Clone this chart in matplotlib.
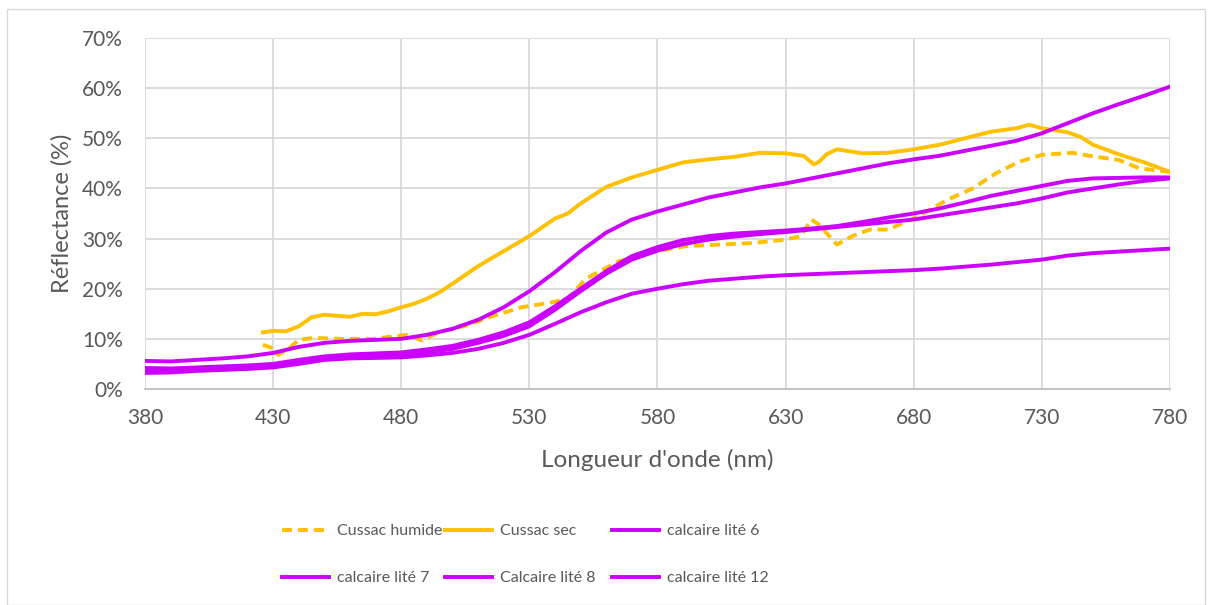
import matplotlib
matplotlib.use("Agg")
import matplotlib.pyplot as plt
from matplotlib.patches import Rectangle
from matplotlib.ticker import FuncFormatter

# ---------------- data ----------------
wl_sec = [426, 430, 435, 440, 445, 450, 455, 460, 465, 470, 475, 480, 485, 490, 495, 500,
          510, 520, 530, 540, 545, 550, 560, 570, 580, 590, 600, 610, 620, 630, 637, 641,
          643, 646, 650, 660, 670, 680, 690, 700, 710, 720, 725, 730, 740, 745, 750, 760,
          770, 780]
cussac_sec = [11.3, 11.6, 11.5, 12.5, 14.3, 14.8, 14.6, 14.4, 15.0, 14.9, 15.5, 16.3, 17.0,
              18.0, 19.3, 21.0, 24.5, 27.5, 30.5, 34.0, 35.0, 37.0, 40.3, 42.2, 43.7, 45.2,
              45.8, 46.3, 47.1, 47.0, 46.5, 44.8, 45.3, 46.8, 47.8, 47.0, 47.1, 47.8, 48.7,
              50.0, 51.3, 52.0, 52.7, 52.0, 51.2, 50.3, 48.7, 46.8, 45.2, 43.3]

wl_humide = [426, 429, 432, 436, 440, 446, 456, 469, 482, 488, 495, 505, 516, 527, 539, 545,
             552, 565, 580, 591, 604, 617, 630, 636, 640, 643, 650, 656, 663, 670, 682, 693,
             703, 712, 721, 730, 742, 751, 760, 768, 780]
cussac_humide = [8.8, 8.3, 6.8, 8.0, 9.8, 10.2, 10.0, 10.0, 10.8, 9.7, 11.4, 12.6, 14.6, 16.3,
                 17.3, 18.0, 22.0, 25.5, 27.5, 28.5, 28.8, 29.1, 29.8, 30.5, 33.8, 32.8, 28.8,
                 30.5, 31.8, 31.8, 34.5, 37.7, 40.0, 43.0, 45.3, 46.7, 47.1, 46.3, 45.7, 44.0,
                 43.3]

wl_calc = list(range(380, 781, 10))
calcaire_6 = [5.6, 5.5, 5.8, 6.1, 6.5, 7.2, 8.4, 9.2, 9.6, 9.8, 10.0, 10.8, 12.0, 13.8, 16.3,
              19.5, 23.3, 27.5, 31.2, 33.8, 35.4, 36.8, 38.2, 39.2, 40.2, 41.0, 42.0, 43.0,
              44.0, 45.0, 45.8, 46.5, 47.5, 48.5, 49.5, 51.0, 53.0, 55.0, 56.8, 58.5, 60.3]
calcaire_7 = [4.2, 4.1, 4.3, 4.5, 4.7, 5.0, 5.8, 6.5, 6.9, 7.1, 7.3, 7.9, 8.6, 9.8, 11.3, 13.3,
              16.5, 20.0, 23.5, 26.5, 28.3, 29.7, 30.5, 31.0, 31.3, 31.6, 32.0, 32.5, 33.3,
              34.2, 35.0, 36.0, 37.2, 38.5, 39.5, 40.5, 41.5, 42.0, 42.1, 42.2, 42.2]
calcaire_8 = [3.6, 3.6, 3.8, 4.0, 4.3, 4.6, 5.5, 6.2, 6.5, 6.6, 6.8, 7.3, 8.0, 9.2, 10.6, 12.5,
              15.8, 19.5, 23.0, 25.8, 27.6, 28.9, 29.8, 30.4, 30.9, 31.3, 31.8, 32.3, 32.8,
              33.3, 33.8, 34.6, 35.4, 36.2, 37.0, 38.0, 39.2, 40.0, 40.8, 41.5, 42.0]
calcaire_12 = [3.2, 3.3, 3.6, 3.8, 4.0, 4.3, 5.0, 5.8, 6.1, 6.2, 6.3, 6.7, 7.2, 8.0, 9.2, 10.8,
               13.0, 15.3, 17.3, 19.0, 20.0, 20.9, 21.6, 22.0, 22.4, 22.7, 22.9, 23.1, 23.3,
               23.5, 23.7, 24.0, 24.4, 24.8, 25.3, 25.8, 26.6, 27.1, 27.4, 27.7, 28.0]

x_ticks = [380, 430, 480, 530, 580, 630, 680, 730, 780]
y_ticks = [0, 10, 20, 30, 40, 50, 60, 70]

# ---------------- style ----------------
ORANGE = "#FFC000"
PURPLE = "#CC00FF"
TXT = "#595959"
GRID = "#D9D9D9"
FONT = "Lato"
LW = 2.8

fig = plt.figure(figsize=(12.13, 6.05), dpi=100)
fig.patch.set_facecolor("white")
fig.add_artist(Rectangle((7 / 1213, 0.0), 1198 / 1213, 1 - 9 / 605, transform=fig.transFigure,
                         fill=False, edgecolor="#D9D9D9", linewidth=1.0))

ax = fig.add_axes([145 / 1213, 1 - 389 / 605, (1170 - 145) / 1213, (389 - 38) / 605])

l_hum, = ax.plot(wl_humide, cussac_humide, color=ORANGE, lw=LW, dashes=(2.6, 1.5),
                 label="Cussac humide")
l_sec, = ax.plot(wl_sec, cussac_sec, color=ORANGE, lw=LW, label="Cussac sec")
l6, = ax.plot(wl_calc, calcaire_6, color=PURPLE, lw=LW, label="calcaire lité 6")
l7, = ax.plot(wl_calc, calcaire_7, color=PURPLE, lw=LW, label="calcaire lité 7")
l8, = ax.plot(wl_calc, calcaire_8, color=PURPLE, lw=LW, label="Calcaire lité 8")
l12, = ax.plot(wl_calc, calcaire_12, color=PURPLE, lw=LW, label="calcaire lité 12")

ax.set_xlim(380, 780)
ax.set_ylim(0, 70)
ax.set_xticks(x_ticks)
ax.set_yticks(y_ticks)
ax.yaxis.set_major_formatter(FuncFormatter(lambda v, p: f"{int(v)}%"))
ax.grid(True, color=GRID, lw=1.3)
ax.set_axisbelow(True)
for s in ["top", "right", "left"]:
    ax.spines[s].set_visible(False)
ax.spines["bottom"].set_color("#BFBFBF")
ax.spines["bottom"].set_linewidth(1.3)
ax.tick_params(length=0, labelsize=15, labelcolor=TXT)
ax.tick_params(axis="x", pad=14)
ax.tick_params(axis="y", pad=16)
for lab in ax.get_xticklabels() + ax.get_yticklabels():
    lab.set_fontfamily(FONT)

ax.set_xlabel("Longueur d'onde (nm)", fontsize=17.5, color=TXT, family=FONT, labelpad=15)
ax.set_ylabel("Réflectance (%)", fontsize=17, color=TXT, family=FONT, labelpad=7)

cols = [([l_hum, l7], 282), ([l_sec, l8], 445), ([l6, l12], 612)]
for handles, xpx in cols:
    leg = fig.legend(handles=handles, loc="upper left",
                     bbox_to_anchor=(xpx / 1213, 1 - 524 / 605),
                     frameon=False, handlelength=2.95, handletextpad=0.5,
                     labelspacing=2.05, borderaxespad=0, borderpad=0,
                     prop={"family": FONT, "size": 11.5})
    for t in leg.get_texts():
        t.set_color(TXT)

fig.savefig("out.png", dpi=100)
